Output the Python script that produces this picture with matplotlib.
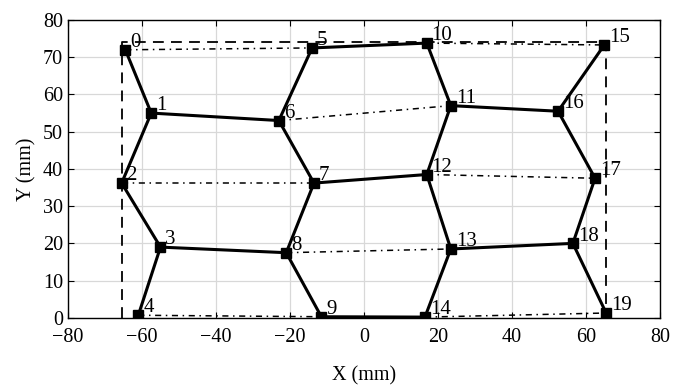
import matplotlib
matplotlib.use("Agg")
import matplotlib.pyplot as plt

plt.rcParams['font.family'] = ['Liberation Serif', 'DejaVu Serif']
plt.rcParams['mathtext.fontset'] = 'stix'

# node coordinates (mm)
node_x = [-64.5, -57.5, -65.5, -55.0, -61.0,
          -14.0, -23.0, -13.5, -21.0, -11.5,
          17.0, 23.5, 17.0, 23.5, 16.5,
          65.0, 52.5, 62.5, 56.5, 65.5]
node_y = [72.0, 55.0, 36.2, 19.0, 0.7,
          72.5, 53.0, 36.2, 17.5, 0.3,
          73.8, 57.0, 38.5, 18.5, 0.2,
          73.3, 55.5, 37.5, 20.0, 1.3]
node_labels = [str(i) for i in range(20)]

solid_edges = [(0, 1), (1, 2), (2, 3), (3, 4), (1, 6), (5, 6), (6, 7), (7, 8),
               (8, 9), (3, 8), (5, 10), (7, 12), (9, 14), (10, 11), (11, 12),
               (12, 13), (13, 14), (11, 16), (13, 18), (15, 16), (16, 17),
               (17, 18), (18, 19)]
dashdot_edges = [(0, 5), (10, 15), (6, 11), (2, 7), (12, 17), (8, 13), (4, 9), (14, 19)]

# dashed boundary frame
frame_x = [-65.5, -65.5, 65.5, 65.5]
frame_y = [0.0, 74.0, 74.0, 0.0]

x_ticks = [-80, -60, -40, -20, 0, 20, 40, 60, 80]
y_ticks = [0, 10, 20, 30, 40, 50, 60, 70, 80]

fig = plt.figure(figsize=(6.83, 3.90), dpi=100)
ax = fig.add_axes([0.0996, 0.185, 0.8664, 0.7637])

ax.plot(frame_x, frame_y, color='black', lw=1.3, ls=(0, (6, 4)), zorder=2)

for a, b in dashdot_edges:
    ax.plot([node_x[a], node_x[b]], [node_y[a], node_y[b]], color='black',
            lw=1.1, ls=(0, (4, 3, 1, 3)), zorder=2)

for a, b in solid_edges:
    ax.plot([node_x[a], node_x[b]], [node_y[a], node_y[b]], color='black',
            lw=2.2, solid_capstyle='round', zorder=3)

ax.plot(node_x, node_y, ls='none', marker='s', ms=7.5, color='black', zorder=4)

for x, y, t in zip(node_x, node_y, node_labels):
    ax.annotate(t, (x, y), xytext=(3.5, 2.0), textcoords='offset points',
                ha='left', va='baseline', fontsize=15, zorder=5)

ax.set_xlim(-80, 80)
ax.set_ylim(0, 80)
ax.set_xticks(x_ticks)
ax.set_yticks(y_ticks)
ax.tick_params(direction='in', top=True, right=True, labelsize=14.5, length=4, width=0.8)
ax.tick_params(axis='x', pad=7)
ax.grid(True, color='#d8d8d8', lw=0.9, zorder=0)
ax.set_axisbelow(True)
for s in ax.spines.values():
    s.set_linewidth(1.0)
ax.set_xlabel('X (mm)', fontsize=14.5, labelpad=14)
ax.set_ylabel('Y (mm)', fontsize=14.5, labelpad=5)

fig.savefig('out.png', dpi=100)
